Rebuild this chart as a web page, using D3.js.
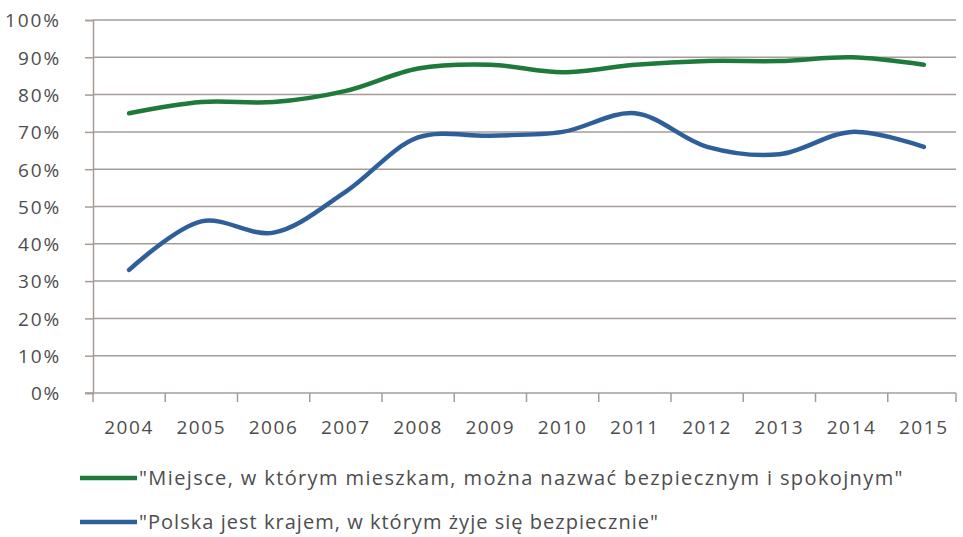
<!DOCTYPE html>
<html>
<head>
<meta charset="utf-8">
<script src="https://cdn.jsdelivr.net/npm/d3@7"></script>
<style>
  html, body { margin: 0; padding: 0; background: #fff; }
  svg { display: block; font-family: "Open Sans", sans-serif; }
</style>
</head>
<body>
<svg id="chart" width="963" height="537"></svg>
<script>
// Survey years
const years = ["2004","2005","2006","2007","2008","2009","2010","2011","2012","2013","2014","2015"];
// Share of respondents (%)
const placeSafe = [75, 78, 78, 81, 87, 88, 86, 88, 89, 89, 90, 88];
const polandSafe = [33, 46, 43, 54, 68.5, 69, 70, 75, 66, 64, 70, 66];
const yTicks = [0, 10, 20, 30, 40, 50, 60, 70, 80, 90, 100];
const seriesNames = [
  "\"Miejsce, w którym mieszkam, można nazwać bezpiecznym i spokojnym\"",
  "\"Polska jest krajem, w którym żyje się bezpiecznie\""
];
const seriesColors = ["#1e7a3a", "#2f5f9b"];

const svg = d3.select("#chart");
const m = { left: 93, right: 3, top: 20, bottom: 144 };
const W = 963, H = 537;

const x = d3.scaleBand().domain(years).range([m.left, W - m.right]);
const y = d3.scaleLinear().domain([0, 100]).range([H - m.bottom, m.top]);

const gridColor = "#a69c97";
const textColor = "#4d4d4d";

// spread a label's letters so it spans the given width
function spreadTo(sel, width) {
  sel.each(function() {
    const n = this.textContent.length;
    const w = this.getComputedTextLength();
    if (n > 1) d3.select(this).attr("letter-spacing", ((width - w) / n).toFixed(2));
  });
}

// horizontal gridlines
svg.append("g")
  .selectAll("line")
  .data(yTicks.filter(d => d > 0))
  .join("line")
  .attr("x1", m.left).attr("x2", W - m.right - 4)
  .attr("y1", d => y(d)).attr("y2", d => y(d))
  .attr("stroke", gridColor).attr("stroke-width", 1.5);

// y axis
const yAxis = svg.append("g")
  .attr("transform", `translate(${m.left},0)`)
  .call(d3.axisLeft(y).tickValues(yTicks).tickFormat(d => d + "%").tickSize(8).tickPadding(24));
yAxis.select(".domain").attr("stroke", gridColor).attr("stroke-width", 1.5);
yAxis.selectAll(".tick line").attr("stroke", gridColor).attr("stroke-width", 1.5);
const yLabels = yAxis.selectAll(".tick text")
  .attr("fill", textColor).attr("font-size", 19).attr("font-family", "'Open Sans', sans-serif")
  .attr("dy", "0.36em");
yLabels.each(function(d) {
  const target = String(d).length * 13 + 17;
  spreadTo(d3.select(this), target);
});

// x axis with ticks on band boundaries
const xAxisG = svg.append("g").attr("transform", `translate(0,${y(0)})`);
xAxisG.append("line")
  .attr("x1", m.left - 8).attr("x2", W - m.right - 4)
  .attr("stroke", gridColor).attr("stroke-width", 1.5);
const boundaries = years.map(d => x(d)).concat([x(years[years.length - 1]) + x.bandwidth()]);
xAxisG.selectAll("line.tk")
  .data(boundaries)
  .join("line").attr("class", "tk")
  .attr("x1", d => Math.min(d, W - m.right - 4)).attr("x2", d => Math.min(d, W - m.right - 4))
  .attr("y1", 0).attr("y2", 9)
  .attr("stroke", gridColor).attr("stroke-width", 1.5);
const xLabels = xAxisG.selectAll("text")
  .data(years)
  .join("text")
  .attr("x", d => x(d) + x.bandwidth() / 2)
  .attr("y", 41)
  .attr("text-anchor", "middle")
  .attr("fill", textColor)
  .attr("font-size", 19)
  .text(d => d);
spreadTo(xLabels, 50);

// smoothed series lines
const line = d3.line()
  .x((d, i) => x(years[i]) + x.bandwidth() / 2)
  .y(d => y(d))
  .curve(d3.curveCatmullRom.alpha(0.5));

[placeSafe, polandSafe].forEach((vals, i) => {
  svg.append("path")
    .datum(vals)
    .attr("d", line)
    .attr("fill", "none")
    .attr("stroke", seriesColors[i])
    .attr("stroke-width", 4.5)
    .attr("stroke-linecap", "round");
});

// legend
const legendY = [478, 522];
const legendWidths = [765, 520];
seriesNames.forEach((name, i) => {
  const g = svg.append("g").attr("transform", `translate(0,${legendY[i]})`);
  g.append("line")
    .attr("x1", 80).attr("x2", 137)
    .attr("stroke", seriesColors[i]).attr("stroke-width", 4.5);
  const t = g.append("text")
    .attr("x", 139).attr("y", 7)
    .attr("fill", textColor)
    .attr("font-size", 20)
    .text(name);
  spreadTo(t, legendWidths[i]);
});
</script>
</body>
</html>
